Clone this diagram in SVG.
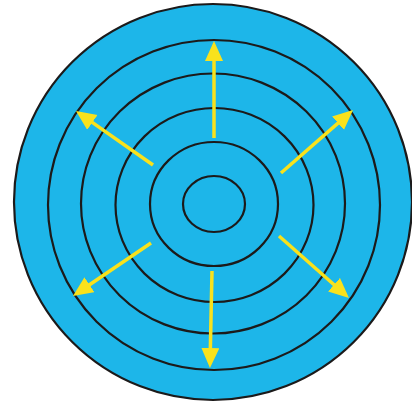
<svg xmlns="http://www.w3.org/2000/svg" width="412" height="404" viewBox="0 0 412 404">
  <style>
    .ring { fill: none; stroke: #1c1a1a; stroke-width: 2.2; }
    .arrow { stroke: #f9e21c; stroke-width: 3.5; fill: none; marker-end: url(#head); }
  </style>
  <defs>
    <marker id="head" markerUnits="userSpaceOnUse" markerWidth="22" markerHeight="20" refX="8" refY="9" orient="auto" viewBox="0 0 22 20">
      <path d="M0,0 L20,9 L0,18 Z" fill="#f9e21c"/>
    </marker>
  </defs>
  <rect width="412" height="404" fill="#ffffff"/>
  <g id="disc">
    <ellipse cx="213" cy="202" rx="199" ry="198" fill="#1db6e9" stroke="#1c1a1a" stroke-width="2.2"/>
  </g>
  <g id="rings">
    <ellipse class="ring" cx="214" cy="205" rx="166" ry="165"/>
    <ellipse class="ring" cx="213" cy="203.5" rx="132" ry="130"/>
    <ellipse class="ring" cx="214.5" cy="205" rx="99" ry="97"/>
    <ellipse class="ring" cx="214" cy="204" rx="64" ry="62"/>
    <ellipse class="ring" cx="214" cy="204" rx="31" ry="28"/>
  </g>
  <g id="connectors">
    <line class="arrow" x1="214" y1="138" x2="214" y2="53"/>
    <line class="arrow" x1="212" y1="271" x2="210.2" y2="356"/>
    <line class="arrow" x1="153" y1="165" x2="85.8" y2="117.9"/>
    <line class="arrow" x1="281" y1="173" x2="344" y2="117.9"/>
    <line class="arrow" x1="151" y1="243" x2="82.9" y2="289.3"/>
    <line class="arrow" x1="279" y1="236" x2="340" y2="290"/>
  </g>
</svg>
